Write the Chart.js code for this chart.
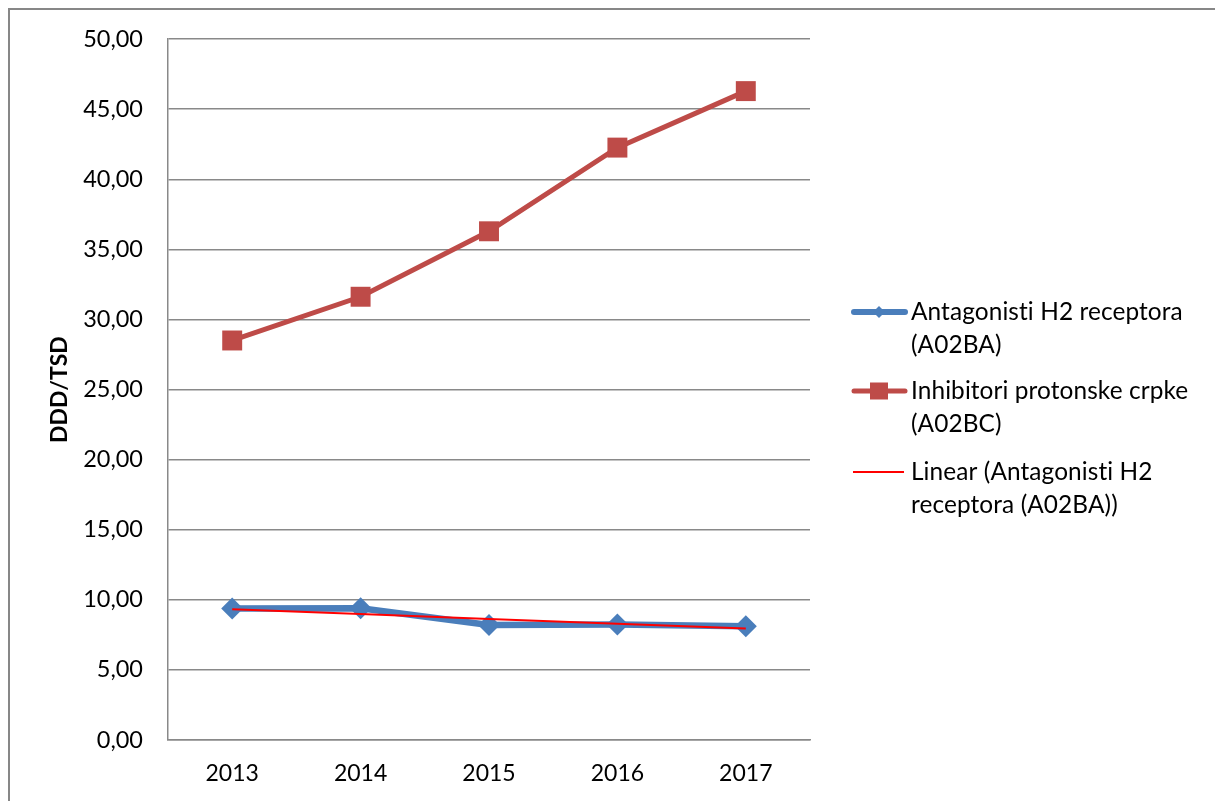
<!DOCTYPE html>
<html>
<head>
<meta charset="utf-8">
<title>DDD/TSD</title>
<script src="https://cdn.jsdelivr.net/npm/chart.js@4/dist/chart.umd.min.js"></script>
<style>
    html, body { margin: 0; padding: 0; background: #fff; overflow: hidden; }
    #wrap { position: relative; width: 1215px; height: 801px; }
    #frame {
        position: absolute; left: 8px; top: 8px; width: 1300px; height: 900px;
        border-left: 2px solid #878787; border-top: 2px solid #878787;
        pointer-events: none;
    }
    canvas { position: absolute; left: 0; top: 0; }
</style>
</head>
<body>
<div id="wrap">
    <canvas id="chart" width="1215" height="801"></canvas>
    <div id="frame"></div>
</div>
<script>
// godine
const years = ['2013', '2014', '2015', '2016', '2017'];
// Antagonisti H2 receptora (A02BA)
const h2Values = [9.38, 9.40, 8.21, 8.24, 8.12];
// Inhibitori protonske crpke (A02BC)
const ppiValues = [28.50, 31.62, 36.29, 42.26, 46.29];
// linearni trend za A02BA
const h2Trend = [9.33, 8.99, 8.64, 8.30, 7.95];

const legendItems = [
    { lines: ['Antagonisti H2 receptora', '(A02BA)'], color: '#4a7ebb', width: 6, marker: 'diamond' },
    { lines: ['Inhibitori protonske crpke', '(A02BC)'], color: '#be4b48', width: 5, marker: 'square' },
    { lines: ['Linear (Antagonisti H2', 'receptora (A02BA))'], color: '#ff0000', width: 2, marker: null }
];

const FONT = 'Lato, "Open Sans", sans-serif';
const GRID = '#898989';

// legenda desno od grafa
const sideLegend = {
    id: 'sideLegend',
    afterDraw(chart) {
        const ctx = chart.ctx;
        const tops = [312, 391, 472];
        ctx.save();
        legendItems.forEach((item, i) => {
            const y = tops[i];
            ctx.strokeStyle = item.color;
            ctx.lineWidth = item.width;
            ctx.lineCap = item.marker ? 'round' : 'butt';
            ctx.beginPath();
            ctx.moveTo(item.marker ? 854 : 853, y);
            ctx.lineTo(item.marker ? 905 : 904, y);
            ctx.stroke();
            ctx.fillStyle = item.color;
            if (item.marker === 'diamond') {
                ctx.beginPath();
                ctx.moveTo(879, y - 6);
                ctx.lineTo(885, y);
                ctx.lineTo(879, y + 6);
                ctx.lineTo(873, y);
                ctx.closePath();
                ctx.fill();
            } else if (item.marker === 'square') {
                ctx.fillRect(870, y - 8.5, 18, 17);
            }
            ctx.fillStyle = '#000';
            ctx.font = '24.4px ' + FONT;
            // bez "ti" ligature
            ctx.letterSpacing = '0.1px';
            ctx.textBaseline = 'middle';
            ctx.textAlign = 'left';
            ctx.fillText(item.lines[0], 911, y);
            ctx.fillText(item.lines[1], 911, y + 33);
        });
        ctx.restore();
    }
};

new Chart(document.getElementById('chart'), {
    type: 'line',
    data: {
        labels: years,
        datasets: [
            {
                label: 'Antagonisti H2 receptora (A02BA)',
                data: h2Values,
                borderColor: '#4a7ebb',
                backgroundColor: '#4a7ebb',
                borderWidth: 6.5,
                pointStyle: 'rectRot',
                pointRadius: 11,
                pointBorderWidth: 0,
                order: 2
            },
            {
                label: 'Inhibitori protonske crpke (A02BC)',
                data: ppiValues,
                borderColor: '#be4b48',
                backgroundColor: '#be4b48',
                borderWidth: 5,
                pointStyle: 'rect',
                pointRadius: 14.1,
                pointBorderWidth: 0,
                order: 3
            },
            {
                label: 'Linear (Antagonisti H2 receptora (A02BA))',
                data: h2Trend,
                borderColor: '#ff0000',
                borderWidth: 2,
                pointRadius: 0,
                order: 1
            }
        ]
    },
    options: {
        responsive: false,
        animation: false,
        events: [],
        layout: { padding: { top: 39, right: 405, bottom: 0, left: 0 } },
        plugins: { legend: { display: false }, tooltip: { enabled: false } },
        scales: {
            x: {
                offset: true,
                grid: { display: false, drawTicks: false },
                border: { color: GRID, width: 1.5 },
                ticks: { color: '#000', font: { family: FONT, size: 23 }, padding: 20 },
                afterFit(scale) { scale.height = 61; }
            },
            y: {
                min: 0,
                max: 50,
                grid: { color: GRID, lineWidth: 1.5, drawTicks: false },
                border: { color: GRID, width: 1.5 },
                ticks: {
                    stepSize: 5,
                    color: '#000',
                    font: { family: FONT, size: 23.5 },
                    padding: 25,
                    callback: v => v.toFixed(2).replace('.', ',')
                },
                title: {
                    display: true,
                    text: 'DDD/TSD',
                    color: '#000',
                    font: { family: FONT, size: 23, weight: 'bold' },
                    padding: { top: 46, bottom: 0 }
                },
                afterFit(scale) { scale.width = 168; }
            }
        }
    },
    plugins: [sideLegend]
});
</script>
</body>
</html>
